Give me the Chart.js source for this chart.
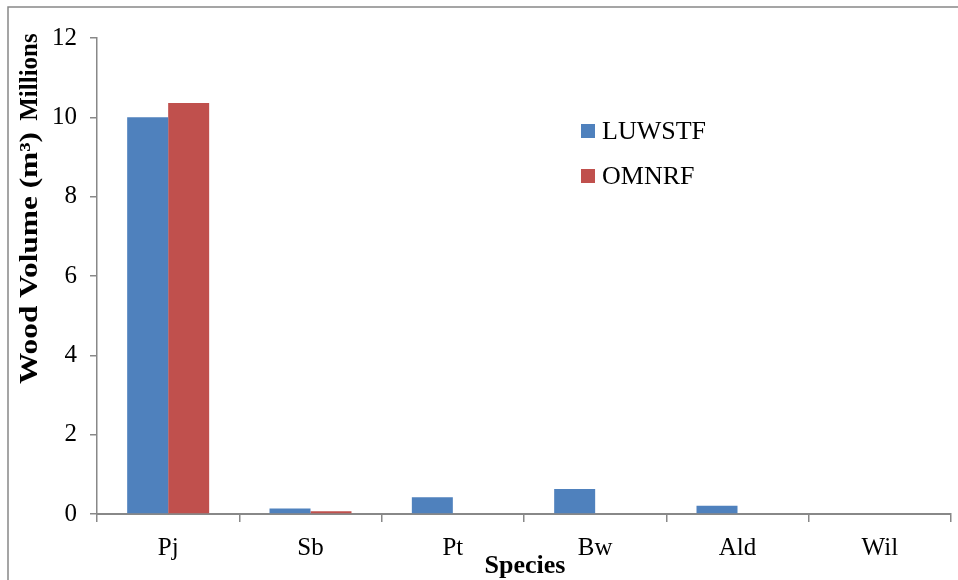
<!DOCTYPE html>
<html lang="en">
<head>
    <meta charset="UTF-8">
    <title>Wood Volume by Species</title>
    <style>
        body {
            margin: 0;
            background-color: #fff;
        }
        #chart-container {
            width: 958px;
            height: 580px;
        }
    </style>
    <script src="https://cdn.jsdelivr.net/npm/chart.js"></script>
</head>
<body>
    <div id="chart-container">
        <canvas id="wood-chart" width="958" height="580"></canvas>
    </div>
    <script>
        // Data (millions of m3)
        const species = ['Pj', 'Sb', 'Pt', 'Bw', 'Ald', 'Wil'];
        const luwstf = [10.0, 0.14, 0.42, 0.63, 0.21, 0];
        const omnrf = [10.36, 0.07, 0, 0, 0, 0];
        const yTicks = [0, 2, 4, 6, 8, 10, 12];

        const axisColor = '#888888';
        const fontFamily = '"Liberation Serif", "Times New Roman", serif';

        // draw rotated text, optionally stretched along its length
        function drawVertical(ctx, text, x, y, length) {
            ctx.save();
            ctx.translate(x, y);
            ctx.rotate(-Math.PI / 2);
            if (length) {
                const w = ctx.measureText(text).width;
                ctx.scale(length / w, 1);
            }
            ctx.fillText(text, 0, 0);
            ctx.restore();
        }

        // Titles, frame and legend drawn by hand to match the original layout
        const extrasPlugin = {
            id: 'extras',
            afterDraw(chart) {
                const ctx = chart.ctx;
                ctx.save();

                // outer frame (left and top edges visible)
                ctx.strokeStyle = axisColor;
                ctx.lineWidth = 1.5;
                ctx.beginPath();
                ctx.moveTo(8, 580);
                ctx.lineTo(8, 7);
                ctx.lineTo(958, 7);
                ctx.stroke();

                ctx.fillStyle = '#000';
                ctx.textAlign = 'center';
                ctx.textBaseline = 'middle';

                // y axis titles
                ctx.font = 'bold 25px ' + fontFamily;
                drawVertical(ctx, 'Wood Volume (m³)', 31, 258, 252);
                drawVertical(ctx, 'Millions', 31, 77);

                // x axis title
                ctx.font = 'bold 26px ' + fontFamily;
                ctx.fillText('Species', 525, 566);

                // legend
                ctx.font = '26px ' + fontFamily;
                ctx.textAlign = 'left';
                chart.data.datasets.forEach(function(ds, i) {
                    const y = 131 + i * 45;
                    ctx.fillStyle = ds.backgroundColor;
                    ctx.fillRect(581, y - 7, 14, 14);
                    ctx.fillStyle = '#000';
                    ctx.fillText(ds.label, 602, y + 1);
                });

                ctx.restore();
            }
        };

        const ctx = document.getElementById('wood-chart').getContext('2d');
        const chart = new Chart(ctx, {
            type: 'bar',
            data: {
                labels: species,
                datasets: [
                    {
                        label: 'LUWSTF',
                        data: luwstf,
                        backgroundColor: '#4F81BD',
                        borderWidth: 0
                    },
                    {
                        label: 'OMNRF',
                        data: omnrf,
                        backgroundColor: '#C0504D',
                        borderWidth: 0
                    }
                ]
            },
            options: {
                responsive: false,
                animation: false,
                layout: {
                    padding: { left: 0, top: 38, right: 7, bottom: 0 }
                },
                datasets: {
                    bar: {
                        categoryPercentage: 0.576,
                        barPercentage: 1.0
                    }
                },
                plugins: {
                    legend: { display: false },
                    tooltip: { enabled: false }
                },
                scales: {
                    x: {
                        grid: {
                            offset: true,
                            drawOnChartArea: false,
                            drawTicks: true,
                            tickLength: 8,
                            color: axisColor,
                            lineWidth: 1.5
                        },
                        border: { color: axisColor, width: 2 },
                        ticks: {
                            color: '#000',
                            padding: 11,
                            font: { family: fontFamily, size: 25 }
                        },
                        afterFit(scale) {
                            scale.height = 66;
                        }
                    },
                    y: {
                        min: 0,
                        max: 12,
                        afterBuildTicks(scale) {
                            scale.ticks = yTicks.map(v => ({ value: v }));
                        },
                        grid: {
                            drawOnChartArea: false,
                            drawTicks: true,
                            tickLength: 7,
                            color: axisColor,
                            lineWidth: 1.5
                        },
                        border: { color: axisColor, width: 1.5 },
                        ticks: {
                            color: '#000',
                            padding: 13,
                            font: { family: fontFamily, size: 25 }
                        },
                        afterFit(scale) {
                            scale.width = 97;
                        }
                    }
                }
            },
            plugins: [extrasPlugin]
        });
    </script>
</body>
</html>
